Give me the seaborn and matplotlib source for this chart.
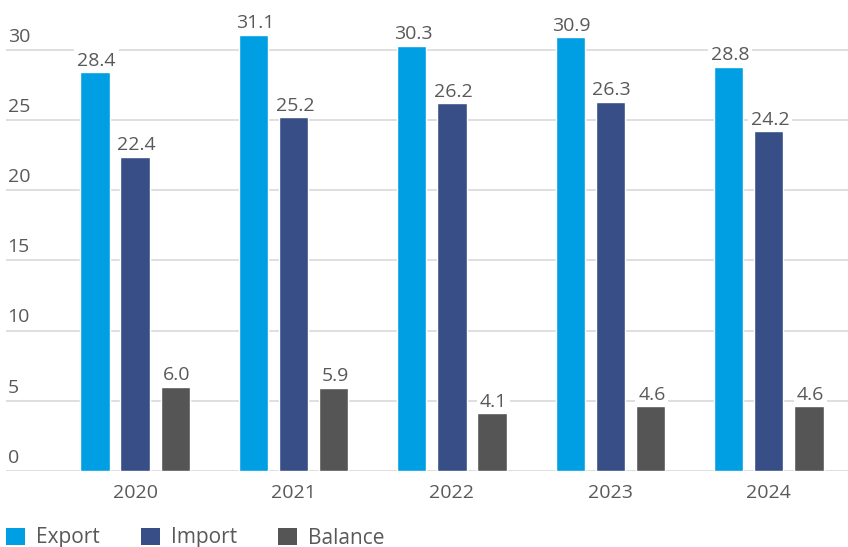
import matplotlib
matplotlib.use("Agg")
import matplotlib.pyplot as plt
from matplotlib.patches import Patch
import pandas as pd
import seaborn as sns

years = ["2020", "2021", "2022", "2023", "2024"]
export = [28.4, 31.1, 30.3, 30.9, 28.8]
imports = [22.4, 25.2, 26.2, 26.3, 24.2]
balance = [6.0, 5.9, 4.1, 4.6, 4.6]
series = ["Export", "Import", "Balance"]
colors = ["#009FE3", "#374E87", "#555555"]
yticks = [0, 5, 10, 15, 20, 25, 30]

df = pd.DataFrame({
    "year": years * 3,
    "value": export + imports + balance,
    "series": [s for s in series for _ in years],
})

sns.set_theme(style="white")
plt.rcParams["font.family"] = ["Open Sans", "DejaVu Sans"]
text_color = "#595959"
grid_color = "#D9D9D9"
fs = 14

fig = plt.figure(figsize=(8.48, 5.47), dpi=100)
ax = fig.add_axes([6 / 848, 76 / 547, 842 / 848, 471 / 547])

sns.barplot(data=df, x="year", y="value", hue="series", hue_order=series,
            palette=colors, width=0.76, gap=0.27, saturation=1,
            legend=False, ax=ax, zorder=2)

ax.set_xlim(-0.815, 4.5)
ax.set_ylim(0, 33.56)
for s in ax.spines.values():
    s.set_visible(False)
ax.set_yticks([])
ax.set_xlabel("")
ax.set_ylabel("")
ax.tick_params(axis="x", length=0, pad=9, labelsize=fs, labelcolor=text_color)

# horizontal gridlines with their labels sitting on top at the left edge
for t in yticks:
    ax.axhline(t, color=grid_color, lw=1.2, zorder=0)
    ax.annotate(str(t), xy=(0.002, t), xycoords=("axes fraction", "data"),
                xytext=(0, 3), textcoords="offset points",
                ha="left", va="bottom", fontsize=fs, color=text_color)

# value labels above each bar
for cont in ax.containers:
    for bar, v in zip(cont, cont.datavalues):
        ax.annotate(f"{v:.1f}", xy=(bar.get_x() + bar.get_width() / 2, v),
                    xytext=(1, 2), textcoords="offset points",
                    ha="center", va="bottom", fontsize=fs, color=text_color,
                    bbox=dict(boxstyle="square,pad=0.15", fc="white", ec="none"),
                    zorder=3)

handles = [Patch(facecolor=c, edgecolor="none", label=s) for s, c in zip(series, colors)]
fig.legend(handles=handles, loc="center left", bbox_to_anchor=(0.007, 1 - 538 / 547),
           ncol=3, frameon=False, fontsize=15, labelcolor=text_color,
           handlelength=0.92, handleheight=0.92, handletextpad=0.5,
           columnspacing=2.0, borderaxespad=0.0, borderpad=0.0)

fig.savefig("out.png", dpi=100)
